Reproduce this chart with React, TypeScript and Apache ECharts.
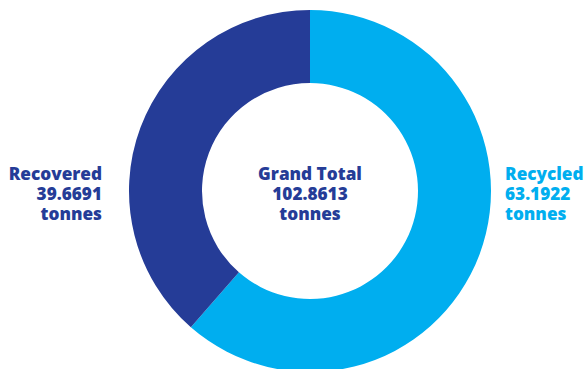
import React, { useEffect, useRef } from "react";
import * as echarts from "echarts";

const categories = ["Recycled", "Recovered"];
const values = [63.1922, 39.6691];
const totalLabel = "Grand Total";
const totalValue = "102.8613";
const unit = "tonnes";
const colors = ["#00AEEF", "#253C97"];

export default function App() {
  const ref = useRef<HTMLDivElement>(null);
  useEffect(() => {
    document.body.style.margin = "0";
    const chart = echarts.init(ref.current!, null, { renderer: "svg" });
    const font = "'Open Sans', sans-serif";
    const cx = 310;
    const cy = 191;
    const ty = 193;
    const fs = "800 17.2px";
    const lh = 20;
    chart.setOption({
      animation: false,
      series: [
        {
          type: "pie",
          center: [cx, cy],
          radius: [108, 181],
          startAngle: 90,
          clockwise: true,
          label: { show: false },
          labelLine: { show: false },
          emphasis: { disabled: true },
          data: categories.map((c, i) => ({
            name: c,
            value: values[i],
            itemStyle: { color: colors[i] },
          })),
        },
      ],
      graphic: [
        {
          type: "text",
          x: cx,
          y: ty,
          style: {
            text: `${totalLabel}\n${totalValue}\n${unit}`,
            fill: colors[1],
            font: `${fs} ${font}`,
            lineHeight: lh,
            align: "center",
            verticalAlign: "middle",
          },
        },
        {
          type: "text",
          x: 102,
          y: ty,
          style: {
            text: `${categories[1]}\n${values[1]}\n${unit}`,
            fill: colors[1],
            font: `${fs} ${font}`,
            lineHeight: lh,
            align: "right",
            verticalAlign: "middle",
          },
        },
        {
          type: "text",
          x: 505,
          y: ty,
          style: {
            text: `${categories[0]}\n${values[0]}\n${unit}`,
            fill: colors[0],
            font: `${fs} ${font}`,
            lineHeight: lh,
            align: "left",
            verticalAlign: "middle",
          },
        },
      ],
    });
    return () => chart.dispose();
  }, []);
  return (
    <div
      ref={ref}
      style={{ position: "absolute", left: 0, top: 0, width: 586, height: 369, background: "#fff" }}
    />
  );
}
